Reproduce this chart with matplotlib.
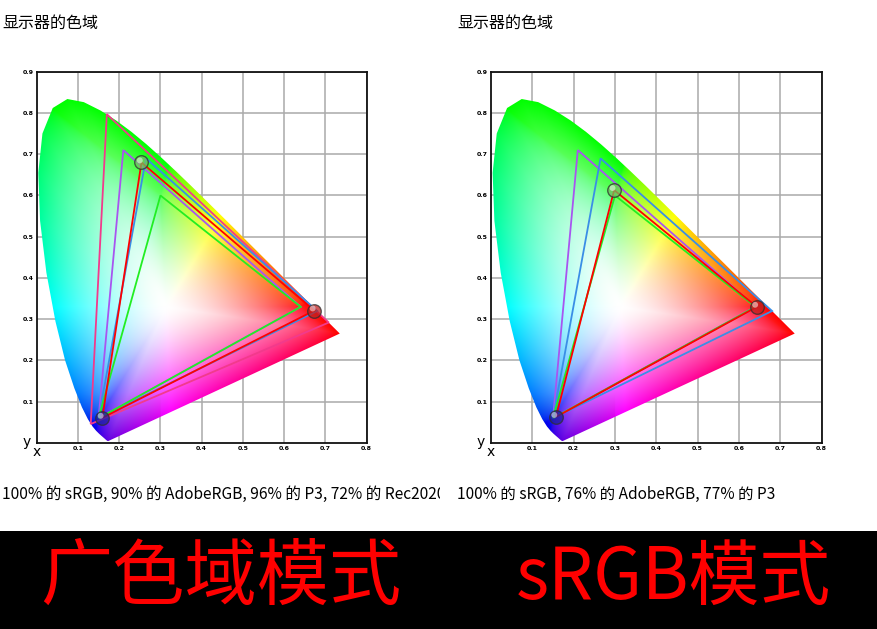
import numpy as np
import matplotlib
matplotlib.use("Agg")
import matplotlib.pyplot as plt
from matplotlib.patches import Polygon, Rectangle
from matplotlib.colors import rgb_to_hsv, hsv_to_rgb

plt.rcParams['font.family'] = ['Noto Sans CJK SC', 'DejaVu Sans']

# CIE 1931 spectral locus (x, y), 380..700 nm
locus_x = [0.1741, 0.1740, 0.1738, 0.1736, 0.1733, 0.1730, 0.1726, 0.1721, 0.1714, 0.1703,
           0.1689, 0.1669, 0.1644, 0.1611, 0.1566, 0.1510, 0.1440, 0.1355, 0.1241, 0.1096,
           0.0913, 0.0687, 0.0454, 0.0235, 0.0082, 0.0039, 0.0139, 0.0389, 0.0743, 0.1142,
           0.1547, 0.1929, 0.2296, 0.2658, 0.3016, 0.3373, 0.3731, 0.4087, 0.4441, 0.4788,
           0.5125, 0.5448, 0.5752, 0.6029, 0.6270, 0.6482, 0.6658, 0.6801, 0.6915, 0.7006,
           0.7079, 0.7140, 0.7190, 0.7230, 0.7260, 0.7283, 0.7300, 0.7311, 0.7320, 0.7327,
           0.7334, 0.7347]
locus_y = [0.0050, 0.0050, 0.0049, 0.0049, 0.0048, 0.0048, 0.0048, 0.0048, 0.0051, 0.0058,
           0.0069, 0.0086, 0.0109, 0.0138, 0.0177, 0.0227, 0.0297, 0.0399, 0.0578, 0.0868,
           0.1327, 0.2007, 0.2950, 0.4127, 0.5384, 0.6548, 0.7502, 0.8120, 0.8338, 0.8262,
           0.8059, 0.7816, 0.7543, 0.7243, 0.6923, 0.6589, 0.6245, 0.5896, 0.5547, 0.5202,
           0.4866, 0.4544, 0.4242, 0.3965, 0.3725, 0.3514, 0.3340, 0.3197, 0.3083, 0.2993,
           0.2920, 0.2859, 0.2809, 0.2770, 0.2740, 0.2717, 0.2700, 0.2689, 0.2680, 0.2673,
           0.2666, 0.2653]
white_point = (0.3127, 0.3290)

# reference gamuts (R, G, B vertices)
rec2020 = [(0.708, 0.292), (0.170, 0.797), (0.131, 0.046)]
adobe = [(0.64, 0.33), (0.21, 0.71), (0.15, 0.06)]
p3 = [(0.68, 0.32), (0.265, 0.69), (0.15, 0.06)]
srgb = [(0.64, 0.33), (0.30, 0.60), (0.15, 0.06)]

# measured monitor primaries
wide_mode = [(0.673, 0.321), (0.254, 0.680), (0.159, 0.061)]
srgb_mode = [(0.643, 0.330), (0.298, 0.613), (0.157, 0.063)]

title = "显示器的色域"
caption_left = "100% 的 sRGB, 90% 的 AdobeRGB, 96% 的 P3, 72% 的 Rec2020"
caption_right = "100% 的 sRGB, 76% 的 AdobeRGB, 77% 的 P3"
banner_left = "广色域模式"
banner_right = "sRGB模式"

x_ticks = [0.1, 0.2, 0.3, 0.4, 0.5, 0.6, 0.7, 0.8]
y_ticks = [0.1, 0.2, 0.3, 0.4, 0.5, 0.6, 0.7, 0.8, 0.9]


def edge_radius():
    # closed locus (with line of purples) in polar form around the white point
    lx = np.array(locus_x + [locus_x[0]])
    ly = np.array(locus_y + [locus_y[0]])
    px, py = [], []
    for i in range(len(lx) - 1):
        t = np.linspace(0, 1, 40, endpoint=False)
        px.append(lx[i] + (lx[i + 1] - lx[i]) * t)
        py.append(ly[i] + (ly[i + 1] - ly[i]) * t)
    px = np.concatenate(px) - white_point[0]
    py = np.concatenate(py) - white_point[1]
    ang = np.arctan2(py, px)
    rad = np.hypot(px, py)
    order = np.argsort(ang)
    return ang[order], rad[order]


def chroma_image(nx=480, ny=540):
    gx = np.linspace(0, 0.8, nx)
    gy = np.linspace(0, 0.9, ny)
    X, Y = np.meshgrid(gx, gy)
    Yc = np.maximum(Y, 1e-4)
    XYZ = np.stack([X / Yc, np.ones_like(X), (1 - X - Y) / Yc], axis=-1)
    M = np.array([[3.2406, -1.5372, -0.4986],
                  [-0.9689, 1.8758, 0.0415],
                  [0.0557, -0.2040, 1.0570]])
    rgb = XYZ @ M.T
    rgb = np.clip(rgb, 0, None)
    rgb = rgb / np.maximum(rgb.max(axis=-1, keepdims=True), 1e-9)
    rgb = np.where(rgb <= 0.0031308, 12.92 * rgb, 1.055 * rgb ** (1 / 2.4) - 0.055)
    rgb = np.clip(rgb, 0, 1)

    # saturation grows from the white point out to the locus edge
    a_edge, r_edge = edge_radius()
    dx, dy = X - white_point[0], Y - white_point[1]
    ang = np.arctan2(dy, dx)
    r = np.hypot(dx, dy)
    re = np.interp(ang, a_edge, r_edge, period=2 * np.pi)
    d = np.clip(r / re, 0, 1)
    hsv = rgb_to_hsv(rgb)
    hsv[..., 1] = d ** 1.5
    hsv[..., 2] = 1.0 - 0.12 * np.clip((0.12 - Y) / 0.12, 0, 1) * (X < 0.3)
    return hsv_to_rgb(hsv)


def draw_diagram(ax, triangles, measured):
    img = chroma_image()
    im = ax.imshow(img, extent=(0, 0.8, 0, 0.9), origin='lower',
                   aspect='auto', zorder=1, interpolation='bilinear')
    locus = Polygon(np.column_stack([locus_x, locus_y]), closed=True,
                    transform=ax.transData)
    im.set_clip_path(locus)

    for pts, col in triangles:
        ax.add_patch(Polygon(pts, closed=True, fill=False, edgecolor=col,
                             linewidth=1.3, zorder=3, joinstyle='miter'))

    ax.add_patch(Polygon(measured, closed=True, fill=False, edgecolor='#ff0000',
                         linewidth=1.3, zorder=4))
    ball_cols = ['#c02020', '#70c060', '#2020a0']
    for (px, py), c in zip(measured, ball_cols):
        ax.scatter([px], [py], s=95, facecolor=c, edgecolor='#303030',
                   linewidth=1.0, alpha=0.75, zorder=5)
        ax.scatter([px - 0.004], [py + 0.005], s=18, facecolor='white',
                   edgecolor='none', alpha=0.5, zorder=6)

    ax.set_xlim(0, 0.8)
    ax.set_ylim(0, 0.9)
    ax.set_xticks(x_ticks)
    ax.set_yticks(y_ticks)
    ax.set_xticklabels([f"{v:.1f}" for v in x_ticks], fontsize=4.5,
                       fontweight='bold', family='DejaVu Sans')
    ax.set_yticklabels([f"{v:.1f}" for v in y_ticks], fontsize=4.5,
                       fontweight='bold', family='DejaVu Sans')
    ax.tick_params(length=0, pad=2)
    ax.set_axisbelow(True)
    ax.grid(True, color='#aaaaaa', linewidth=1.1, zorder=0)
    for s in ax.spines.values():
        s.set_linewidth(1.3)
        s.set_color('#111111')
        s.set_zorder(7)
    ax.text(-0.015, 0.003, "y", transform=ax.transData, ha='right', va='center',
            fontsize=10, family='DejaVu Sans')
    ax.text(0.0, -0.022, "x", transform=ax.transData, ha='center', va='center',
            fontsize=10, family='DejaVu Sans')


fig = plt.figure(figsize=(8.78, 6.29), dpi=100)
W, H = 878, 629

ax1 = fig.add_axes([36.7 / W, (H - 443) / H, 330 / W, 371.3 / H])
ax2 = fig.add_axes([491 / W, (H - 443) / H, 330.7 / W, 371.3 / H])

draw_diagram(ax1, [(rec2020, '#f23a8c'), (adobe, '#a855f0'), (p3, '#3a8ee6'),
                   (srgb, '#22ee22')], wide_mode)
draw_diagram(ax2, [(adobe, '#a855f0'), (p3, '#3a8ee6'), (srgb, '#22ee22')], srgb_mode)

fig.text(2 / W, 1 - 23 / H, title, fontsize=11.5, ha='left', va='center')
fig.text(457 / W, 1 - 23 / H, title, fontsize=11.5, ha='left', va='center')

t = fig.text(2 / W, 1 - 494 / H, caption_left, fontsize=11.2, ha='left', va='center')
t.set_clip_path(Rectangle((0, 0), 440 / W, 1, transform=fig.transFigure))
fig.text(457 / W, 1 - 494 / H, caption_right, fontsize=11.1, ha='left', va='center')

fig.patches.append(Rectangle((0, 0), 1, (H - 531) / H, transform=fig.transFigure,
                             facecolor='black', edgecolor='none', zorder=0))
fig.text(221 / W, 1 - 578 / H, banner_left, fontsize=52, color='#ff0000',
         ha='center', va='center')
fig.text(673 / W, 1 - 578 / H, banner_right, fontsize=51, color='#ff0000',
         ha='center', va='center')

fig.savefig("out.png", dpi=100)
